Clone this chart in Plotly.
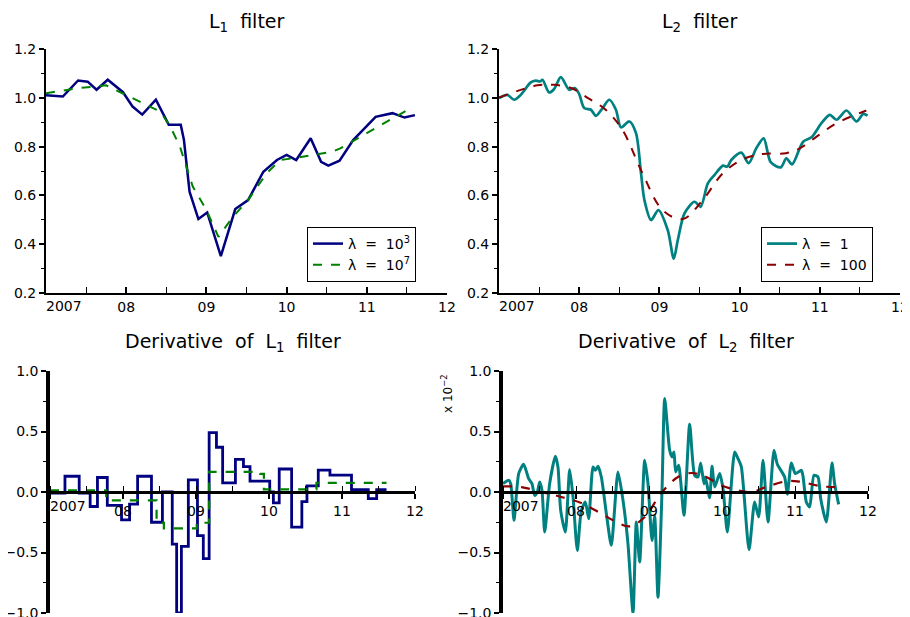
import plotly.graph_objects as go

# ---------------- data ----------------
years_tick = [2007, 2008, 2009, 2010, 2011, 2012]
tick_text = ["", "08", "09", "10", "11", "12"]

# Top-left: L1 filter
l1_a_x = [2007.00, 2007.21, 2007.40, 2007.52, 2007.63, 2007.77, 2007.96, 2008.08, 2008.20, 2008.37,
          2008.53, 2008.68, 2008.72, 2008.79, 2008.90, 2009.01, 2009.18, 2009.36, 2009.52, 2009.71,
          2009.88, 2010.00, 2010.12, 2010.30, 2010.43, 2010.52, 2010.66, 2010.83, 2011.11, 2011.32,
          2011.47, 2011.60]
l1_a_y = [1.010, 1.005, 1.071, 1.066, 1.033, 1.074, 1.023, 0.964, 0.931, 0.992,
          0.890, 0.890, 0.827, 0.615, 0.503, 0.530, 0.351, 0.544, 0.581, 0.697,
          0.745, 0.766, 0.745, 0.834, 0.738, 0.722, 0.742, 0.827, 0.922, 0.937,
          0.919, 0.929]
l1_b_x = [2007.00, 2007.42, 2007.75, 2008.00, 2008.42, 2008.54, 2008.67, 2008.83, 2009.00, 2009.15,
          2009.33, 2009.52, 2009.75, 2009.92, 2010.08, 2010.58, 2010.67, 2011.00, 2011.58]
l1_b_y = [1.019, 1.040, 1.051, 1.012, 0.944, 0.889, 0.800, 0.636, 0.540, 0.430,
          0.512, 0.581, 0.690, 0.745, 0.752, 0.780, 0.793, 0.855, 0.964]

# Top-right: L2 filter
l2_a_x = [2007.000, 2007.104, 2007.188, 2007.271, 2007.396, 2007.458, 2007.513, 2007.542, 2007.625, 2007.688,
          2007.771, 2007.875, 2007.946, 2008.000, 2008.063, 2008.146, 2008.208, 2008.292, 2008.375, 2008.458,
          2008.521, 2008.625, 2008.708, 2008.771, 2008.813, 2008.896, 2008.988, 2009.104, 2009.179, 2009.229,
          2009.313, 2009.438, 2009.513, 2009.604, 2009.688, 2009.792, 2009.846, 2009.896, 2010.021, 2010.113,
          2010.208, 2010.300, 2010.388, 2010.513, 2010.583, 2010.654, 2010.792, 2010.896, 2011.021, 2011.125,
          2011.208, 2011.333, 2011.458, 2011.542, 2011.596]
l2_a_y = [0.999, 1.012, 0.992, 1.012, 1.063, 1.070, 1.067, 1.074, 1.022, 1.036,
          1.085, 1.033, 1.040, 1.015, 0.958, 0.951, 0.926, 0.958, 0.992, 0.951,
          0.879, 0.903, 0.855, 0.690, 0.581, 0.499, 0.540, 0.458, 0.341, 0.416,
          0.526, 0.574, 0.553, 0.649, 0.684, 0.722, 0.718, 0.745, 0.775, 0.732,
          0.793, 0.834, 0.736, 0.715, 0.752, 0.727, 0.820, 0.838, 0.896, 0.930,
          0.910, 0.948, 0.903, 0.934, 0.927]
l2_b_x = [2007.00, 2007.48, 2007.69, 2007.90, 2008.11, 2008.33, 2008.54, 2008.79, 2009.04, 2009.29,
          2009.54, 2009.79, 2010.04, 2010.29, 2010.58, 2010.75, 2010.96, 2011.21, 2011.58]
l2_b_y = [1.001, 1.051, 1.053, 1.040, 0.999, 0.951, 0.868, 0.690, 0.540, 0.503,
          0.581, 0.690, 0.748, 0.770, 0.773, 0.793, 0.841, 0.896, 0.948]

# Bottom-left: derivative of L1 filter (step functions, x 10^-2)
d1_a_edges = [2007.00, 2007.205, 2007.40, 2007.55, 2007.65, 2007.785, 2007.98, 2008.09, 2008.20, 2008.39,
              2008.54, 2008.675, 2008.735, 2008.80, 2008.895, 2009.02, 2009.10, 2009.18, 2009.28, 2009.365,
              2009.54, 2009.65, 2009.74, 2010.01, 2010.06, 2010.14, 2010.31, 2010.45, 2010.52, 2010.675,
              2010.835, 2011.13, 2011.36, 2011.475, 2011.61]
d1_a_vals = [-0.01, 0.13, -0.01, -0.12, 0.12, -0.11, -0.23, -0.10, 0.13, -0.25,
             0.0, -0.43, -1.0, -0.45, 0.10, -0.36, -0.55, 0.49, 0.37, 0.075,
             0.27, 0.21, 0.09, 0.0, -0.09, 0.19, -0.29, -0.08, 0.05, 0.18,
             0.14, 0.02, -0.055, 0.02]
d1_b_edges = [2007.00, 2007.77, 2008.46, 2008.56, 2009.01, 2009.18, 2009.88, 2009.93, 2010.65, 2011.61]
d1_b_vals = [0.014, -0.07, -0.254, -0.30, -0.254, 0.166, 0.15, 0.022, 0.075]

# Bottom-right: derivative of L2 filter (x 10^-2)
d2_a_x = [2007.000, 2007.078, 2007.105, 2007.151, 2007.215, 2007.283, 2007.352, 2007.397, 2007.434, 2007.470,
          2007.502, 2007.534, 2007.571, 2007.639, 2007.717, 2007.753, 2007.790, 2007.854, 2007.913, 2007.959,
          2008.018, 2008.073, 2008.128, 2008.174, 2008.233, 2008.265, 2008.301, 2008.347, 2008.416, 2008.484,
          2008.575, 2008.644, 2008.712, 2008.781, 2008.826, 2008.872, 2008.941, 2008.986, 2009.041, 2009.078,
          2009.123, 2009.178, 2009.215, 2009.283, 2009.315, 2009.342, 2009.365, 2009.406, 2009.479, 2009.557,
          2009.626, 2009.671, 2009.708, 2009.753, 2009.772, 2009.831, 2009.863, 2009.900, 2009.968, 2010.014,
          2010.073, 2010.174, 2010.219, 2010.265, 2010.370, 2010.447, 2010.502, 2010.562, 2010.630, 2010.712,
          2010.758, 2010.858, 2010.895, 2010.950, 2011.005, 2011.087, 2011.110, 2011.155, 2011.201, 2011.260,
          2011.315, 2011.352, 2011.429, 2011.507, 2011.543, 2011.598]
d2_a_y = [0.069, 0.097, 0.069, -0.234, 0.152, 0.229, 0.110, 0.069, -0.028, 0.000,
          0.083, 0.014, -0.331, 0.069, 0.295, 0.207, -0.152, -0.331, 0.185, -0.041,
          -0.483, -0.152, -0.083, -0.221, 0.207, 0.179, 0.212, 0.124, -0.179, -0.441,
          0.166, -0.069, -0.428, -1.000, -0.248, -0.579, 0.262, 0.069, -0.400, -0.201,
          -0.869, 0.000, 0.772, 0.345, 0.290, 0.331, 0.166, 0.221, -0.193, 0.560,
          0.138, 0.124, 0.240, 0.069, 0.124, -0.047, 0.212, 0.041, 0.152, 0.028,
          -0.331, 0.331, 0.276, 0.207, -0.477, -0.083, -0.207, 0.262, -0.248, 0.345,
          0.229, 0.124, -0.019, 0.240, 0.152, 0.179, 0.130, -0.083, -0.124, 0.138,
          0.124, -0.055, -0.248, 0.240, 0.069, -0.102]
d2_b_x = [2007.000, 2007.251, 2007.525, 2007.799, 2008.073, 2008.347, 2008.530, 2008.735, 2008.941, 2009.169,
          2009.397, 2009.580, 2009.763, 2009.991, 2010.219, 2010.402, 2010.630, 2010.904, 2011.087, 2011.361,
          2011.612]
d2_b_y = [0.047, 0.041, 0.000, -0.041, -0.091, -0.179, -0.240, -0.284, -0.207, -0.008,
          0.124, 0.157, 0.130, 0.055, 0.014, 0.000, 0.047, 0.091, 0.083, 0.047,
          0.041]

# ---------------- styles ----------------
NAVY = "#000080"
GREEN = "#008000"
TEAL = "#008080"
DRED = "#8b0000"
FONT = "DejaVu Sans"
W, H = 910, 617
OFF = 8  # page body margin offset

def px_x(p):
    return (p - OFF) / W

def px_y(p):
    return 1 - (p - OFF) / H

fig = go.Figure()

fig.add_trace(go.Scatter(x=l1_a_x, y=l1_a_y, mode="lines", xaxis="x", yaxis="y",
                         line=dict(color=NAVY, width=2.5), name="λ\u00a0 =\u00a0 10<sup>3</sup>",
                         legend="legend"))
fig.add_trace(go.Scatter(x=l1_b_x, y=l1_b_y, mode="lines", xaxis="x", yaxis="y",
                         line=dict(color=GREEN, width=2, dash="dash"), name="λ\u00a0 =\u00a0 10<sup>7</sup>",
                         legend="legend"))
fig.add_trace(go.Scatter(x=l2_a_x, y=l2_a_y, mode="lines", xaxis="x2", yaxis="y2",
                         line=dict(color=TEAL, width=2.7, shape="spline", smoothing=0.8),
                         name="λ\u00a0 =\u00a0 1", legend="legend2"))
fig.add_trace(go.Scatter(x=l2_b_x, y=l2_b_y, mode="lines", xaxis="x2", yaxis="y2",
                         line=dict(color=DRED, width=2, dash="dash", shape="spline"),
                         name="λ\u00a0 =\u00a0 100", legend="legend2"))

fig.add_trace(go.Scatter(x=d1_a_edges, y=d1_a_vals + [d1_a_vals[-1]], mode="lines", xaxis="x3", yaxis="y3",
                         line=dict(color=NAVY, width=2.8, shape="hv"), showlegend=False))
fig.add_trace(go.Scatter(x=d1_b_edges, y=d1_b_vals + [d1_b_vals[-1]], mode="lines", xaxis="x3", yaxis="y3",
                         line=dict(color=GREEN, width=2.2, dash="dash", shape="hv"), showlegend=False))
fig.add_trace(go.Scatter(x=d2_a_x, y=d2_a_y, mode="lines", xaxis="x4", yaxis="y4",
                         line=dict(color=TEAL, width=3, shape="spline", smoothing=0.6), showlegend=False))
fig.add_trace(go.Scatter(x=d2_b_x, y=d2_b_y, mode="lines", xaxis="x4", yaxis="y4",
                         line=dict(color=DRED, width=2.2, dash="dash", shape="spline"), showlegend=False))

tickfont = dict(family=FONT, size=14, color="black")

def top_x(domain, anchor):
    return dict(domain=domain, anchor=anchor, range=[2007, 2012], tickmode="array",
                tickvals=years_tick, ticktext=tick_text, showline=True, linecolor="black",
                linewidth=2, ticks="inside", ticklen=6, tickwidth=1.5, tickcolor="black",
                minor=dict(dtick=0.5, tick0=2007, ticks="inside", ticklen=6, tickwidth=1, tickcolor="black"),
                showgrid=False, zeroline=False, tickfont=tickfont, fixedrange=True, automargin=False)

def top_y(domain, anchor):
    return dict(domain=domain, anchor=anchor, range=[0.2, 1.2], tickmode="array",
                tickvals=[0.2, 0.4, 0.6, 0.8, 1.0, 1.2], tickformat=".1f",
                showline=True, linecolor="black", linewidth=2, ticks="outside", ticklen=5,
                tickwidth=1.5, tickcolor="black",
                minor=dict(dtick=0.1, tick0=0.2, ticks="outside", ticklen=3, tickwidth=1, tickcolor="black"),
                showgrid=False, zeroline=False, tickfont=tickfont, fixedrange=True, automargin=False)

def bot_x(domain, pos):
    return dict(domain=domain, anchor="free", position=pos, range=[2007, 2012], tickmode="array",
                tickvals=years_tick, ticktext=tick_text, showline=True, linecolor="black",
                linewidth=2.5, ticks="outside", ticklen=5, tickwidth=1.5, tickcolor="black",
                minor=dict(dtick=0.5, tick0=2007, ticks="inside", ticklen=5, tickwidth=1, tickcolor="black"),
                showgrid=False, zeroline=False, tickfont=tickfont, fixedrange=True, automargin=False)

def bot_y(domain, anchor):
    return dict(domain=domain, anchor=anchor, range=[-1, 1], tickmode="array",
                tickvals=[-1.0, -0.5, 0.0, 0.5, 1.0], tickformat=".1f",
                showline=True, linecolor="black", linewidth=3.5, ticks="outside", ticklen=5,
                tickwidth=1.5, tickcolor="black",
                minor=dict(dtick=0.25, tick0=-1, ticks="outside", ticklen=3, tickwidth=1, tickcolor="black"),
                showgrid=False, zeroline=False, tickfont=tickfont, fixedrange=True, automargin=False)

top_dom_y = [px_y(293), px_y(49)]
bot_dom_y = [px_y(613), px_y(371)]
zero_pos = px_y(492)

fig.update_layout(
    width=W, height=H, margin=dict(l=0, r=0, t=0, b=0, autoexpand=False),
    paper_bgcolor="white", plot_bgcolor="white",
    font=dict(family=FONT, size=14, color="black"),
    xaxis=top_x([px_x(46), px_x(447)], "y"),
    yaxis=top_y(top_dom_y, "x"),
    xaxis2=top_x([px_x(499), px_x(900)], "y2"),
    yaxis2=top_y(top_dom_y, "x2"),
    xaxis3=bot_x([px_x(50), px_x(415)], zero_pos),
    yaxis3=bot_y(bot_dom_y, "x3"),
    xaxis4=bot_x([px_x(503), px_x(868)], zero_pos),
    yaxis4=bot_y(bot_dom_y, "x4"),
    legend=dict(x=px_x(307), y=px_y(227), xanchor="left", yanchor="top",
                bordercolor="black", borderwidth=1, bgcolor="white",
                font=dict(family=FONT, size=14), itemwidth=30, tracegroupgap=0),
    legend2=dict(x=px_x(761), y=px_y(227), xanchor="left", yanchor="top",
                 bordercolor="black", borderwidth=1, bgcolor="white",
                 font=dict(family=FONT, size=14), itemwidth=30, tracegroupgap=0),
    showlegend=True,
)

titles = [
    ("L<sub>1</sub>\u00a0 filter", px_x(246.5), px_y(22)),
    ("L<sub>2</sub>\u00a0 filter", px_x(699.5), px_y(22)),
    ("Derivative\u00a0 of\u00a0 L<sub>1</sub>\u00a0 filter", px_x(232.5), px_y(342)),
    ("Derivative\u00a0 of\u00a0 L<sub>2</sub>\u00a0 filter", px_x(685.5), px_y(342)),
]
for text, x, y in titles:
    fig.add_annotation(text=text, x=x, y=y, xref="paper", yref="paper", showarrow=False,
                       xanchor="center", yanchor="middle", font=dict(family=FONT, size=19, color="black"))

# "2007" labels starting at the axis origin
for xr, yp in [("x", px_y(296)), ("x2", px_y(296)), ("x3", px_y(496)), ("x4", px_y(496))]:
    fig.add_annotation(text="2007", x=2007, y=yp, xref=xr, yref="paper", showarrow=False,
                       xanchor="left", yanchor="top", xshift=-2, font=tickfont)

# scale label for bottom-right panel
fig.add_annotation(text="x\u00a010<sup>\u22122</sup>", x=px_x(447), y=px_y(394), xref="paper", yref="paper",
                   showarrow=False, textangle=-90, font=dict(family=FONT, size=12, color="black"))

fig.write_html("out.html")
